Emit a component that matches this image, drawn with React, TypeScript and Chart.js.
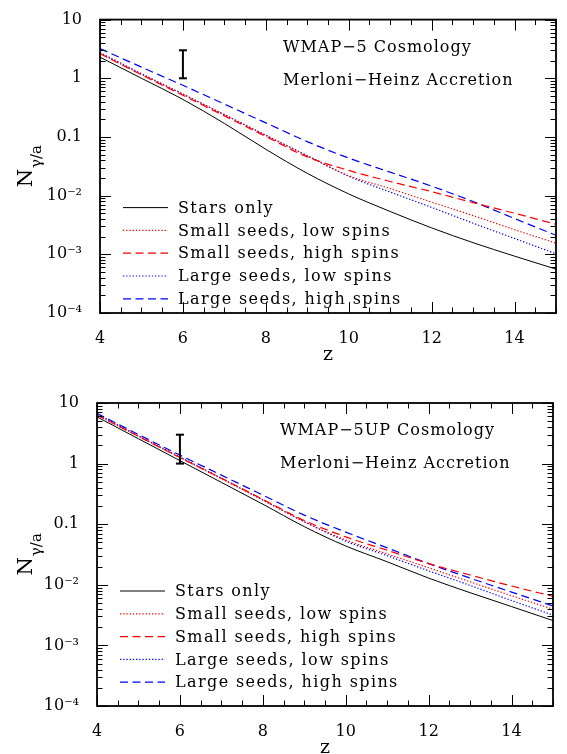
import React, { useEffect, useRef } from "react";
import { Chart, registerables } from "chart.js";

Chart.register(...registerables);

// ---------- data ----------
const Z = [4, 5, 6, 7, 8, 9, 10, 11, 12, 13, 14, 15];

// WMAP-5 panel
const TOP_STARS = [2.29, 1.0, 0.437, 0.17, 0.0617, 0.024, 0.0107, 0.00537, 0.00282, 0.00158, 0.00093, 0.00056];
const TOP_SMALL_LOW = [2.63, 1.17, 0.537, 0.24, 0.107, 0.0479, 0.0219, 0.0132, 0.00776, 0.00457, 0.00263, 0.00155];
const TOP_SMALL_HIGH = [2.63, 1.15, 0.513, 0.229, 0.102, 0.0457, 0.0269, 0.0174, 0.0117, 0.00759, 0.00501, 0.00324];
const TOP_LARGE_LOW = [2.75, 1.2, 0.537, 0.24, 0.107, 0.0479, 0.0214, 0.0115, 0.00631, 0.00339, 0.00186, 0.00102];
const TOP_LARGE_HIGH = [3.2, 1.55, 0.759, 0.363, 0.174, 0.0832, 0.0437, 0.0251, 0.0145, 0.00794, 0.00407, 0.00211];

// WMAP-5UP panel
const BOT_STARS = [5.89, 2.57, 1.12, 0.49, 0.214, 0.0912, 0.0437, 0.024, 0.0129, 0.00741, 0.00437, 0.00257];
const BOT_SMALL_LOW = [6.31, 2.82, 1.26, 0.562, 0.251, 0.11, 0.055, 0.0324, 0.0191, 0.0112, 0.00661, 0.00394];
const BOT_SMALL_HIGH = [6.31, 2.82, 1.26, 0.575, 0.257, 0.115, 0.0617, 0.0372, 0.0224, 0.0145, 0.00955, 0.00646];
const BOT_LARGE_LOW = [6.61, 2.88, 1.29, 0.575, 0.251, 0.11, 0.0525, 0.0302, 0.017, 0.00977, 0.0055, 0.00316];
const BOT_LARGE_HIGH = [6.76, 3.02, 1.38, 0.646, 0.302, 0.141, 0.0741, 0.0407, 0.0224, 0.0129, 0.00759, 0.00447];

const LEGEND_LABELS = [
  "Stars only",
  "Small seeds, low spins",
  "Small seeds, high spins",
  "Large seeds, low spins",
  "Large seeds, high spins",
];

const X_MIN = 4;
const X_MAX = 15;
const X_TICKS = [4, 6, 8, 10, 12, 14];
const Y_MIN = 1e-4;
const Y_MAX = 10;
const Y_TICKS = [1e-4, 1e-3, 1e-2, 0.1, 1, 10];
const Y_TICK_LABELS = ["10⁻⁴", "10⁻³", "10⁻²", "0.1", "1", "10"];

const TOP_NOTES = ["WMAP−5 Cosmology", "Merloni−Heinz Accretion"];
const BOT_NOTES = ["WMAP−5UP Cosmology", "Merloni−Heinz Accretion"];

// error bar at z = 6
const ERR_Z = 6;
const ERR_LO = 1;
const ERR_HI = 3;

// ---------- styles ----------
const FONT = '"DejaVu Serif", serif';
const STYLES = [
  { color: "#000000", dash: [] as number[], width: 1 },
  { color: "#ff0000", dash: [1.3, 1.9], width: 1.2 },
  { color: "#ff0000", dash: [8, 4.5], width: 1.2 },
  { color: "#0000ff", dash: [1.3, 1.9], width: 1.2 },
  { color: "#0000ff", dash: [8, 4.5], width: 1.2 },
];

function decorPlugin(notes: string[]) {
  return {
    id: "decor",
    afterDraw(chart: any) {
      const ctx: CanvasRenderingContext2D = chart.ctx;
      const { left, right, top, bottom } = chart.chartArea;
      const xs = chart.scales.x;
      const ys = chart.scales.y;
      ctx.save();
      ctx.strokeStyle = "#000";
      ctx.fillStyle = "#000";
      ctx.setLineDash([]);

      const seg = (x1: number, y1: number, x2: number, y2: number) => {
        ctx.beginPath();
        ctx.moveTo(x1, y1);
        ctx.lineTo(x2, y2);
        ctx.stroke();
      };

      // ticks (inward)
      ctx.lineWidth = 1;
      for (let v = X_MIN; v <= X_MAX + 1e-9; v += 0.5) {
        const px = Math.round(xs.getPixelForValue(v)) + 0.5;
        const major = Math.abs(v % 2) < 1e-9;
        const len = major ? 11 : 5.5;
        seg(px, bottom, px, bottom - len);
        seg(px, top, px, top + len);
      }
      for (let d = -4; d <= 1; d++) {
        for (let m = 1; m <= 9; m++) {
          const v = m * Math.pow(10, d);
          if (v > Y_MAX * 1.0001) break;
          const py = Math.round(ys.getPixelForValue(v)) + 0.5;
          const len = m === 1 ? 11 : 5.5;
          seg(left, py, left + len, py);
          seg(right, py, right - len, py);
        }
      }

      // frame
      ctx.lineWidth = 1.8;
      ctx.strokeRect(left, top, right - left, bottom - top);

      // error bar
      const ex = xs.getPixelForValue(ERR_Z);
      const eLo = ys.getPixelForValue(ERR_LO);
      const eHi = ys.getPixelForValue(ERR_HI);
      ctx.lineWidth = 2;
      seg(ex, eLo, ex, eHi);
      seg(ex - 4, eLo, ex + 4, eLo);
      seg(ex - 4, eHi, ex + 4, eHi);

      // notes
      (ctx as any).letterSpacing = "1px";
      ctx.font = `16px ${FONT}`;
      ctx.textBaseline = "middle";
      ctx.textAlign = "left";
      ctx.fillText(notes[0], left + 183, top + 28);
      ctx.fillText(notes[1], left + 183, top + 61);

      // legend
      (ctx as any).letterSpacing = "1.4px";
      chart.data.datasets.forEach((ds: any, i: number) => {
        const y = top + 188 + i * 22.8;
        ctx.strokeStyle = ds.borderColor;
        ctx.lineWidth = ds.borderWidth;
        ctx.setLineDash(ds.borderDash || []);
        seg(left + 23, y, left + 68, y);
        ctx.setLineDash([]);
        ctx.fillStyle = "#000";
        ctx.fillText(ds.label, left + 78, y + 1);
      });

      // x title
      (ctx as any).letterSpacing = "0px";
      ctx.font = `19px ${FONT}`;
      ctx.textAlign = "center";
      ctx.textBaseline = "alphabetic";
      ctx.fillText("z", (left + right) / 2, bottom + 47);

      // y title: N with subscript γ/a, rotated
      const cy = (top + bottom) / 2;
      ctx.translate(32, cy + 21);
      ctx.rotate(-Math.PI / 2);
      ctx.textAlign = "left";
      ctx.font = `21px ${FONT}`;
      ctx.fillText("N", 0, 0);
      const nw = ctx.measureText("N").width;
      ctx.font = `15px ${FONT}`;
      ctx.fillText("γ/a", nw + 1, 9);

      ctx.restore();
    },
  };
}

type PanelProps = {
  height: number;
  pad: { left: number; right: number; top: number; bottom: number };
  yWidth: number;
  xHeight: number;
  series: number[][];
  notes: string[];
};

function Panel({ height, pad, yWidth, xHeight, series, notes }: PanelProps) {
  const ref = useRef<HTMLCanvasElement>(null);
  useEffect(() => {
    if (!ref.current) return;
    const tickFont = { family: FONT, size: 16 };
    const chart = new Chart(ref.current, {
      type: "line",
      data: {
        datasets: series.map((vals, i) => ({
          label: LEGEND_LABELS[i],
          data: Z.map((z, j) => ({ x: z, y: vals[j] })),
          borderColor: STYLES[i].color,
          borderDash: STYLES[i].dash,
          borderWidth: STYLES[i].width,
          pointRadius: 0,
          fill: false,
          cubicInterpolationMode: "monotone" as const,
        })),
      },
      options: {
        responsive: false,
        animation: false,
        devicePixelRatio: 1,
        layout: { padding: pad },
        plugins: { legend: { display: false }, tooltip: { enabled: false } },
        scales: {
          x: {
            type: "linear",
            min: X_MIN,
            max: X_MAX,
            grid: { display: false },
            border: { display: false },
            afterBuildTicks: (s: any) => {
              s.ticks = X_TICKS.map((v) => ({ value: v }));
            },
            afterFit: (s: any) => {
              s.height = xHeight;
            },
            ticks: {
              font: tickFont,
              color: "#000",
              padding: 8,
              autoSkip: false,
              maxRotation: 0,
              callback: (v: any) => String(v),
            },
          },
          y: {
            type: "logarithmic",
            min: Y_MIN,
            max: Y_MAX,
            grid: { display: false },
            border: { display: false },
            afterBuildTicks: (s: any) => {
              s.ticks = Y_TICKS.map((v) => ({ value: v }));
            },
            afterFit: (s: any) => {
              s.width = yWidth;
            },
            ticks: {
              font: tickFont,
              color: "#000",
              padding: 10,
              autoSkip: false,
              callback: (v: any) => {
                const i = Y_TICKS.findIndex(
                  (t) => Math.abs(Math.log10(t) - Math.log10(Number(v))) < 1e-6
                );
                return i >= 0 ? Y_TICK_LABELS[i] : "";
              },
            },
          },
        },
      } as any,
      plugins: [decorPlugin(notes)],
    });
    return () => chart.destroy();
  }, []);
  return <canvas ref={ref} width={567} height={height} style={{ display: "block" }} />;
}

export default function App() {
  return (
    <div style={{ position: "absolute", left: 0, top: 0, width: 567, height: 754, background: "#fff" }}>
      <Panel
        height={380}
        pad={{ left: 0, right: 11, top: 10, bottom: 0 }}
        yWidth={100}
        xHeight={67}
        series={[TOP_STARS, TOP_SMALL_LOW, TOP_SMALL_HIGH, TOP_LARGE_LOW, TOP_LARGE_HIGH]}
        notes={TOP_NOTES}
      />
      <Panel
        height={374}
        pad={{ left: 0, right: 14, top: 23, bottom: 0 }}
        yWidth={97}
        xHeight={48}
        series={[BOT_STARS, BOT_SMALL_LOW, BOT_SMALL_HIGH, BOT_LARGE_LOW, BOT_LARGE_HIGH]}
        notes={BOT_NOTES}
      />
    </div>
  );
}
